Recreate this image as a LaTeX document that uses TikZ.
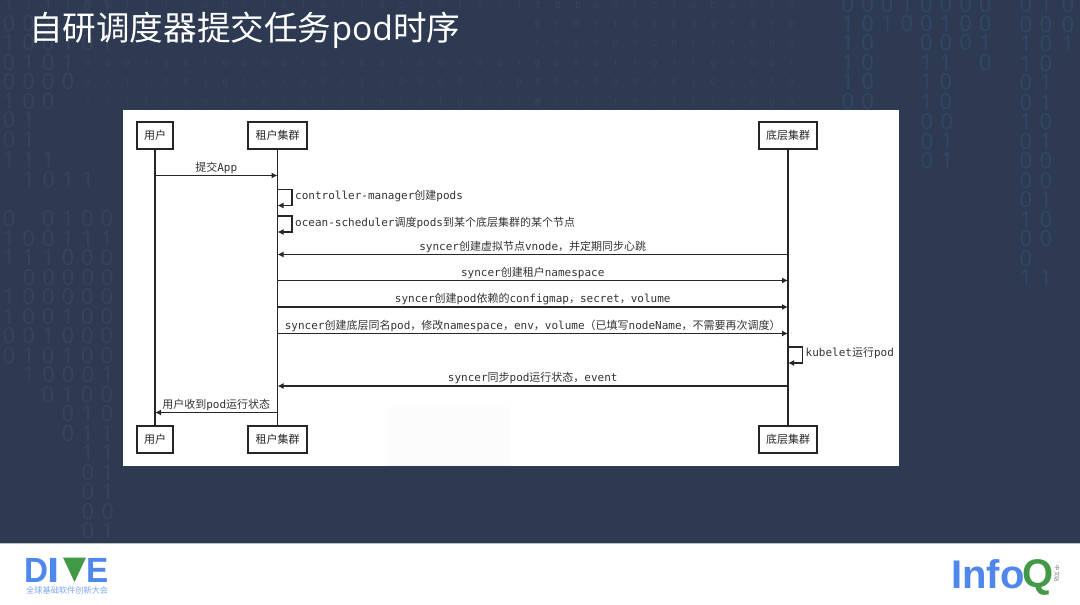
\documentclass[tikz,border=0pt]{standalone}
\usepackage{fontspec}
\usepackage{xcolor}
\usetikzlibrary{arrows.meta}
\setmainfont{Open Sans}
\setmonofont{DejaVu Sans Mono}
\newfontfamily\cjk{Noto Sans CJK SC}
\newfontfamily\logofont{Liberation Sans}
\definecolor{slidebg}{HTML}{2E3A52}
\definecolor{bitgrey}{HTML}{384459}
\definecolor{bitfaint}{HTML}{3A465D}
\definecolor{bitblue}{HTML}{304864}
\definecolor{diveblue}{HTML}{5087EC}
\definecolor{divegreen}{HTML}{439A46}
\newcommand{\cn}[1]{{\cjk #1}}
\newcommand{\bitrow}[5]{\foreach \b [count=\i from 0] in {#5} {\node [#4] (bit#3x#1n\i) at (#1+19.6*\i,#3) {\b};}}
\newcommand{\bitcol}[5]{\foreach \b [count=\i from 0] in {#5} {\node [#4] (bitc#1x#2n\i) at (#1,#2+19.5*\i) {\b};}}
\tikzset{
  bitbig/.style={font=\fontsize{22}{22}\selectfont, text=bitgrey, inner sep=0pt},
  bitcold/.style={font=\fontsize{22}{22}\selectfont, text=bitblue, inner sep=0pt},
  bitsmall/.style={font=\fontsize{9}{9}\selectfont, text=bitfaint, inner sep=0pt},
  actor/.style={draw=black!85, line width=1.3pt, minimum width=#1, minimum height=27pt, inner sep=0pt, font=\fontsize{11}{11}\selectfont\cjk, text=black!85},
  life/.style={draw=black!85, line width=1.3pt},
  msg/.style={draw=black!85, line width=1.3pt, -{Latex[length=6pt,width=6pt]}},
  msgtext/.style={font=\fontsize{11}{13}\ttfamily, text=black!80, inner sep=1.5pt},
}
\begin{document}
\begin{tikzpicture}[x=1pt, y=-1pt]
\useasboundingbox (0,0) rectangle (1080,605);
\fill [slidebg] (0,0) rectangle (1080,605);
\bitrow{9}{0}{5}{bitgrey,bitbig,font=\fontsize{14}{14}\selectfont}{1,1,1,1,0,1}
\bitrow{9}{0}{24}{bitbig}{0,0,1,1}
\bitrow{9}{0}{43}{bitbig}{1,0,0,1,0,1}
\bitrow{9}{0}{63}{bitbig}{0,1,0,1}
\bitrow{9}{0}{82}{bitbig}{0,0,0,0}
\bitrow{9}{0}{102}{bitbig}{1,0,0}
\bitrow{88}{0}{5}{bitsmall}{1,0,1,1,1,1,0,0,1,1,0,1,0,1,1,0,0,1,0,1,0,1,1,1,0,0}
\bitrow{88}{0}{63}{bitsmall}{0,0,0,1,0,0,1,0,0,0,0,1,0,1,0,0,1,0,0,1,0,0,1,1}
\bitrow{88}{0}{82}{bitsmall}{0,1,1,1,1,0,1,0,1,0,1,0,0,1,1,1,0,0,0,0,1,1,0,1}
\bitrow{88}{0}{102}{bitsmall}{1,1,1,1,1,0,0,1,0,0,1,0,1,1,1,0,1,0,1,0,0,1,1,0}
\bitrow{537}{0}{5}{bitsmall}{1,1,1,0,0,1,0,1,0,0,0,0,1,0}
\bitrow{537}{0}{24}{bitsmall}{0,1,0,1,1,0,0,0,0,0,1,0,1,0}
\bitrow{537}{0}{43}{bitsmall}{1,0,0,0,0,0,0,0,1,1,1,0,0,0}
\bitrow{537}{0}{63}{bitsmall}{0,0,0,0,1,1,0,1,1,0,1,0,0,1}
\bitrow{537}{0}{82}{bitsmall}{1,0,0,0,0,0,1,0,1,0,1,0,1,0}
\bitrow{537}{0}{102}{bitsmall}{0,1,1,1,1,0,1,1,1,1,0,0,0,0}
\bitrow{848}{0}{5}{bitcold}{0,0,0,1,0,0,0,0}
\bitrow{848}{0}{24}{bitcold}{1,0,1,0,0,1,0,0}
\bitrow{848}{0}{43}{bitcold}{1,0,,,0,0,0,1}
\bitrow{848}{0}{63}{bitcold}{1,0,,,1,1,,0}
\bitrow{848}{0}{82}{bitcold}{1,0,,,1,0}
\bitrow{848}{0}{102}{bitcold}{0,0,,,1,0}
\bitcol{1026}{5}{0}{bitcold}{0,0,1,1,0,0,1,0,0,0,0,1,0,0,1}
\bitcol{1046}{5}{0}{bitcold}{1,0,0,0,1,1,0,1,0,0,1,0,0,,1}
\bitcol{1068}{5}{0}{bitcold}{0,0,1}
\bitcol{927}{122}{0}{bitcold}{0,0,0}
\bitcol{947}{122}{0}{bitcold}{0,1,1}
\bitrow{9}{0}{120}{bitbig}{0,1}
\bitrow{9}{0}{140}{bitbig}{0,1}
\bitrow{9}{0}{160}{bitbig}{1,1,1}
\bitrow{29}{0}{180}{bitbig}{1,0,1,1}
\bitrow{9}{0}{219}{bitbig}{0,,0,1,0,0}
\bitrow{9}{0}{239}{bitbig}{1,0,0,1,1,1}
\bitrow{9}{0}{258}{bitbig}{1,1,1,0,0,0}
\bitrow{29}{0}{278}{bitbig}{0,0,0,0,0}
\bitrow{9}{0}{297}{bitbig}{1,0,0,0,0,0}
\bitrow{9}{0}{317}{bitbig}{1,0,0,1,0,0}
\bitrow{9}{0}{336}{bitbig}{0,0,1,0,0,0}
\bitrow{9}{0}{356}{bitbig}{0,1,0,1,0,0}
\bitrow{29}{0}{375}{bitbig}{1,0,0,0,1}
\bitrow{48}{0}{395}{bitbig}{0,1,0,0}
\bitrow{68}{0}{414}{bitbig}{0,1,0}
\bitrow{68}{0}{434}{bitbig}{0,1,1}
\bitrow{88}{0}{453}{bitbig}{1,1}
\bitrow{88}{0}{473}{bitbig}{0,1}
\bitrow{88}{0}{492}{bitbig}{0,1}
\bitrow{88}{0}{512}{bitbig}{0,0}
\bitrow{88}{0}{531}{bitbig}{0,1}
\node [anchor=west, inner sep=0pt, text=white, font=\fontsize{33.6}{34}\selectfont] (title) at (29,30) {\cn{自研调度器提交任务}pod\cn{时序}};
\fill [white] (123,110) rectangle (899,466);
\fill [black!1] (388,407) rectangle (510,466);
\node [actor=36pt] (userT) at (155,135.5) {用户};
\node [actor=59pt] (tenantT) at (277.5,135.5) {租户集群};
\node [actor=58pt] (baseT) at (788,135.5) {底层集群};
\node [actor=36pt] (userB) at (155,439.5) {用户};
\node [actor=59pt] (tenantB) at (277.5,439.5) {租户集群};
\node [actor=58pt] (baseB) at (788,439.5) {底层集群};
\draw [life] (userT)--(userB);
\draw [life] (tenantT)--(tenantB);
\draw [life] (baseT)--(baseB);
\coordinate (m1) at (0,175.5);
\coordinate (s1) at (0,189.5);
\coordinate (s2) at (0,216);
\coordinate (m2) at (0,254.5);
\coordinate (m3) at (0,280.5);
\coordinate (m4) at (0,307);
\coordinate (m5) at (0,333.5);
\coordinate (s3) at (0,347);
\coordinate (m6) at (0,386);
\coordinate (m7) at (0,412.5);
\draw [msg] (userT |- m1)--(tenantT |- m1) node (l1) [msgtext, midway, above] {\cn{提交}App};
\draw [msg] (tenantT |- s1)--++(14.5,0)--++(0,16)--++(-14.5,0);
\node [msgtext, anchor=west] (l2) at (293.5,196) {controller-manager\cn{创建}pods};
\draw [msg] (tenantT |- s2)--++(14.5,0)--++(0,16)--++(-14.5,0);
\node [msgtext, anchor=west] (l3) at (293.5,222.5) {ocean-scheduler\cn{调度}pods\cn{到某个底层集群的某个节点}};
\draw [msg] (baseT |- m2)--(tenantT |- m2) node (l4) [msgtext, midway, above] {syncer\cn{创建虚拟节点}vnode\cn{，并定期同步心跳}};
\draw [msg] (tenantT |- m3)--(baseT |- m3) node (l5) [msgtext, midway, above] {syncer\cn{创建租户}namespace};
\draw [msg] (tenantT |- m4)--(baseT |- m4) node (l6) [msgtext, midway, above] {syncer\cn{创建}pod\cn{依赖的}configmap\cn{，}secret\cn{，}volume};
\draw [msg] (tenantT |- m5)--(baseT |- m5) node (l7) [msgtext, midway, above] {syncer\cn{创建底层同名}pod\cn{，修改}namespace\cn{，}env\cn{，}volume\cn{（已填写}nodeName\cn{，不需要再次调度）}};
\draw [msg] (baseT |- s3)--++(14.5,0)--++(0,16)--++(-14.5,0);
\node [msgtext, anchor=west] (l8) at (804,353.5) {kubelet\cn{运行}pod};
\draw [msg] (baseT |- m6)--(tenantT |- m6) node (l9) [msgtext, midway, above] {syncer\cn{同步}pod\cn{运行状态，}event};
\draw [msg] (tenantT |- m7)--(userT |- m7) node (l10) [msgtext, midway, above] {\cn{用户收到}pod\cn{运行状态}};
\fill [white] (0,544) rectangle (1080,605);
\draw [black!25] (0,543.5)--(1080,543.5);
\node [anchor=base west, inner sep=0pt, xscale=.95, text=diveblue, font=\fontsize{35}{35}\logofont\bfseries] (diveD) at (24,582) {D};
\node [anchor=base west, inner sep=0pt, xscale=1.25, text=diveblue, font=\fontsize{35}{35}\logofont\bfseries] (diveI) at (47,582) {I};
\fill [divegreen] (63,557.5)--(86,557.5)--(74.5,582)--cycle;
\node [anchor=base west, inner sep=0pt, xscale=.95, text=diveblue, font=\fontsize{35}{35}\logofont\bfseries] (diveE) at (86,582) {E};
\node [anchor=west, inner sep=0pt, text=diveblue!75, font=\fontsize{8.2}{9}\cjk] (diveT) at (26,590.5) {全球基础软件创新大会};
\node [anchor=base west, inner sep=0pt, text=diveblue, font=\fontsize{40}{40}\logofont\bfseries] (infoT) at (951,588.5) {Info};
\node [anchor=base west, inner sep=0pt, text=divegreen, font=\fontsize{40}{40}\logofont\bfseries] (infoQ) at (1022,587.5) {Q};
\node [rotate=-90, inner sep=0pt, text=black!55, font=\fontsize{5.5}{6}\cjk] (infoC) at (1057,574) {中文站};
\end{tikzpicture}
\end{document}
